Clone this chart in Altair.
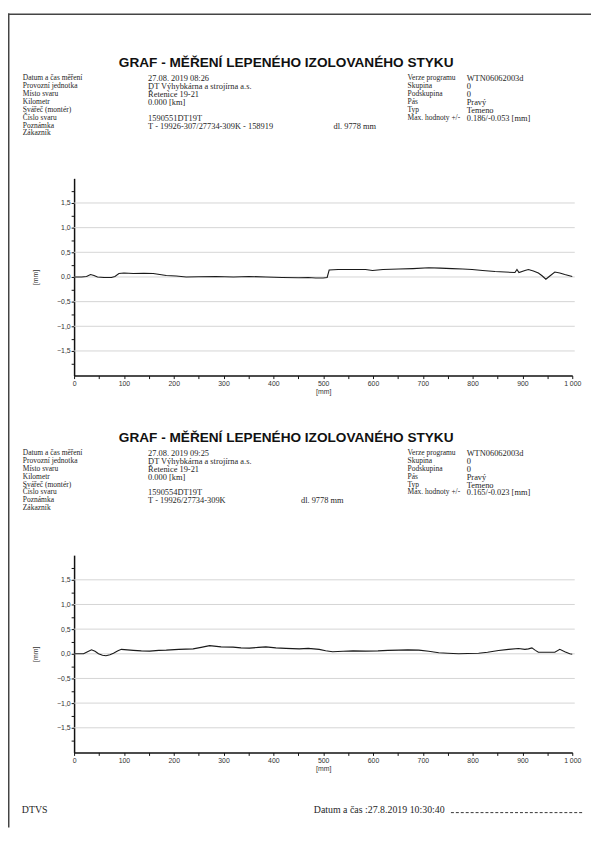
import altair as alt
import pandas as pd

W, H = 591, 825

# ---------------- data ----------------
dist_1 = [0, 15, 25, 33, 40, 47, 60, 75, 82, 90, 100, 119, 140, 159, 172, 185, 205, 225, 250, 285,
          320, 351, 385, 418, 451, 470, 485, 500, 508, 512, 530, 560, 585, 599, 620, 652, 680, 712,
          735, 759, 780, 799, 820, 845, 865, 885, 889, 893, 905, 912, 922, 932, 940, 947, 955, 965,
          975, 985, 1000]
prof_1 = [0.00, 0.00, 0.01, 0.05, 0.03, 0.00, -0.01, -0.01, 0.01, 0.07, 0.08, 0.07, 0.075, 0.07,
          0.05, 0.03, 0.02, 0.00, 0.005, 0.01, 0.00, 0.01, 0.00, -0.01, -0.015, -0.01, -0.02, -0.02,
          -0.01, 0.14, 0.15, 0.15, 0.15, 0.13, 0.15, 0.16, 0.17, 0.186, 0.18, 0.17, 0.16, 0.15, 0.13,
          0.11, 0.10, 0.09, 0.15, 0.09, 0.13, 0.15, 0.12, 0.08, 0.02, -0.045, 0.02, 0.10, 0.08, 0.05,
          0.01]

dist_2 = [0, 19, 27, 35, 42, 49, 57, 64, 72, 79, 88, 95, 119, 135, 152, 170, 185, 210, 239, 255,
          272, 295, 319, 335, 352, 370, 385, 405, 425, 452, 470, 492, 505, 519, 540, 560, 585, 610,
          630, 652, 670, 692, 712, 732, 750, 772, 790, 812, 830, 852, 872, 892, 905, 912, 919, 926,
          932, 950, 965, 975, 985, 995, 1000]
prof_2 = [0.00, 0.00, 0.04, 0.08, 0.05, 0.00, -0.03, -0.04, -0.02, 0.01, 0.06, 0.09, 0.07, 0.06,
          0.055, 0.07, 0.075, 0.09, 0.10, 0.13, 0.165, 0.14, 0.135, 0.12, 0.115, 0.13, 0.14, 0.12,
          0.11, 0.10, 0.11, 0.09, 0.06, 0.04, 0.05, 0.06, 0.055, 0.06, 0.07, 0.075, 0.08, 0.075, 0.05,
          0.02, 0.01, 0.00, 0.005, 0.01, 0.03, 0.067, 0.09, 0.107, 0.09, 0.10, 0.12, 0.07, 0.03, 0.03,
          0.03, 0.09, 0.04, 0.00, -0.01]

y_tick_values = [-1.75, -1.5, -1.25, -1.0, -0.75, -0.5, -0.25, 0.0, 0.25, 0.5, 0.75, 1.0, 1.25, 1.5, 1.75]
x_tick_values = [0, 50, 100, 150, 200, 250, 300, 350, 400, 450, 500, 550, 600, 650, 700, 750, 800,
                 850, 900, 950, 1000]
grid_values = [-1.5, -1.0, -0.5, 0.0, 0.5, 1.0, 1.5]

title_text = "GRAF - MĚŘENÍ LEPENÉHO IZOLOVANÉHO STYKU"
left_labels = ["Datum a čas měření", "Provozní jednotka", "Místo svaru", "Kilometr",
               "Svářeč (montér)", "Číslo svaru", "Poznámka", "Zákazník"]
left_values_1 = ["27.08. 2019   08:26", "DT Výhybkárna a strojírna a.s.", "Řetenice 19-21",
                 "0.000 [km]", "", "1590551DT19T", "T - 19926-307/27734-309K - 158919", ""]
left_values_2 = ["27.08. 2019   09:25", "DT Výhybkárna a strojírna a.s.", "Řetenice 19-21",
                 "0.000 [km]", "", "1590554DT19T", "T - 19926/27734-309K", ""]
right_labels = ["Verze programu", "Skupina", "Podskupina", "Pás", "Typ", "Max. hodnoty +/-"]
right_values_1 = ["WTN06062003d", "0", "0", "Pravý", "Temeno", "0.186/-0.053   [mm]"]
right_values_2 = ["WTN06062003d", "0", "0", "Pravý", "Temeno", "0.165/-0.023   [mm]"]
length_note = "dl. 9778 mm"
footer_left = "DTVS"
footer_date = "Datum a čas :27.8.2019 10:30:40"

# ---------------- layout ----------------
LEFT_X, VAL_X, RLAB_X, RVAL_X = 15, 142, 405, 465
ROW0, PITCH = 65.5, 8.0
BLOCK_DY = 380
SERIF = "Liberation Serif"
SANS = "Liberation Sans"
TXT = "#262626"

AXIS_STYLE = dict(labelFont=SANS, labelFontSize=7, labelColor="#333333", domainColor="#111111",
                  domainWidth=1.5, tickColor="#111111", tickWidth=1, titleFont=SANS,
                  titleFontSize=7, titleFontWeight="normal", titleColor="#333333",
                  labelOverlap=False, grid=False)


def label_rows(dy):
    rows = [(lab, LEFT_X, ROW0 + dy + i * PITCH) for i, lab in enumerate(left_labels)]
    rows += [(lab, RLAB_X, ROW0 + dy + i * PITCH) for i, lab in enumerate(right_labels)]
    return rows


def value_rows(dy, lvals, rvals, note_x):
    rows = [(v, VAL_X, ROW0 + dy + i * PITCH) for i, v in enumerate(lvals) if v]
    rows += [(v, RVAL_X, ROW0 + dy + i * PITCH) for i, v in enumerate(rvals)]
    rows.append((length_note, note_x, ROW0 + dy + 6 * PITCH))
    return rows


def text_layer(rows, **kw):
    df = pd.DataFrame(rows, columns=["t", "px", "py"])
    return alt.Chart(df).mark_text(**kw).encode(
        x=alt.X("px:Q", scale=None, axis=None),
        y=alt.Y("py:Q", scale=None, axis=None),
        text="t:N",
    )


def plot_block(dist, prof, y_bottom):
    y_top = y_bottom - 200
    xs = alt.Scale(domain=[0, 1000], range=[67, 572], nice=False, zero=False)
    ys = alt.Scale(domain=[-2, 2], range=[y_bottom, y_top], nice=False, zero=False)
    xa = alt.Axis(orient="bottom", offset=y_bottom - H, values=x_tick_values,
                  labelExpr="datum.value % 100 == 0 ? (datum.value == 1000 ? '1 000' : format(datum.value, 'd')) : ''",
                  title="[mm]", tickSize=3, labelPadding=1, titlePadding=1, labelFlush=False,
                  **AXIS_STYLE)
    ya = alt.Axis(orient="left", offset=-67, values=y_tick_values,
                  labelExpr="abs(datum.value % 0.5) < 0.001 ? replace(format(datum.value, '.1f'), '.', ',') : ''",
                  title="[mm]", tickSize=3, labelPadding=1, titlePadding=18, **AXIS_STYLE)
    grid_df = pd.DataFrame({"v": grid_values, "a": [0] * len(grid_values), "b": [1005] * len(grid_values)})
    grid = alt.Chart(grid_df).mark_rule(color="#d4d4d4", strokeWidth=1).encode(
        x=alt.X("a:Q", scale=xs, axis=xa), x2="b:Q",
        y=alt.Y("v:Q", scale=ys, axis=ya))
    line_df = pd.DataFrame({"a": dist, "v": prof})
    line = alt.Chart(line_df).mark_line(color="#1a1a1a", strokeWidth=1.1).encode(
        x=alt.X("a:Q", scale=xs, axis=xa),
        y=alt.Y("v:Q", scale=ys, axis=ya))
    return alt.layer(grid, line)


one = pd.DataFrame({"k": [0]})
border = alt.layer(
    alt.Chart(one).mark_rule(color="#444444", strokeWidth=1.5).encode(
        x=alt.value(0.75), y=alt.value(0), y2=alt.value(H)),
    alt.Chart(one).mark_rule(color="#444444", strokeWidth=1.5).encode(
        x=alt.value(0), x2=alt.value(W), y=alt.value(0.75)),
)

titles = text_layer([(title_text, 282, 54), (title_text, 282, 54 + BLOCK_DY)],
                    font=SANS, fontSize=13.8, fontWeight="bold", align="center",
                    baseline="alphabetic", color="#111111")
labels_all = text_layer(label_rows(0) + label_rows(BLOCK_DY),
                        font=SERIF, fontSize=7.6, align="left", baseline="middle", color=TXT)
values_all = text_layer(value_rows(0, left_values_1, right_values_1, 330)
                        + value_rows(BLOCK_DY, left_values_2, right_values_2, 297),
                        font=SERIF, fontSize=8.5, align="left", baseline="middle", color=TXT)
footer = text_layer([(footer_left, 14, 807), (footer_date, 310, 807)],
                    font=SERIF, fontSize=10, align="left", baseline="middle", color=TXT)
dashes = alt.Chart(one).mark_rule(color="#333333", strokeWidth=1, strokeDash=[3, 2]).encode(
    x=alt.value(449), x2=alt.value(582), y=alt.value(810))

block_1 = plot_block(dist_1, prof_1, 367)
block_2 = plot_block(dist_2, prof_2, 749)

chart = alt.layer(border, titles, labels_all, values_all, footer, dashes, block_1, block_2).resolve_scale(
    x="independent", y="independent"
).properties(
    width=W, height=H, autosize="none", padding=0, background="white"
).configure_view(stroke=None)

chart.save("out.html", embed_options={"renderer": "svg", "actions": False})
